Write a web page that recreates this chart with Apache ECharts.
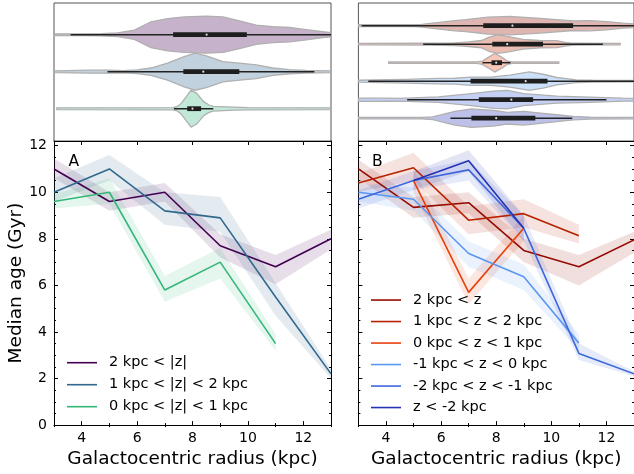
<!DOCTYPE html>
<html><head><meta charset="utf-8">
<script src="https://cdn.jsdelivr.net/npm/echarts@6/dist/echarts.min.js"></script>
<style>html,body{margin:0;padding:0;background:#fff}#c{width:634px;height:474px}</style>
</head><body><div id="c"></div>
<script>
// ---------- Panel A (|z| bins) ----------
const namesA = ['2 kpc < |z|', '1 kpc < |z| < 2 kpc', '0 kpc < |z| < 1 kpc'];
const rA1 = [3, 5, 7, 9, 11, 13];
const ageA1 = [11.0, 9.6, 10.0, 7.7, 6.8, 8.0];
const loA1 = [10.6, 9.2, 9.6, 7.2, 6.05, 7.55];
const hiA1 = [11.45, 10.0, 10.4, 8.2, 7.3, 8.4];
const rA2 = [3, 5, 7, 9, 11, 13];
const ageA2 = [10.0, 11.0, 9.2, 8.9, 5.5, 2.2];
const loA2 = [9.6, 10.5, 8.6, 8.3, 4.7, 2.0];
const hiA2 = [10.6, 11.6, 10.0, 9.8, 6.1, 2.4];
const rA3 = [3, 5, 7, 9, 11];
const ageA3 = [9.6, 10.0, 5.8, 7.0, 3.5];
const loA3 = [9.3, 9.5, 5.3, 6.3, 3.2];
const hiA3 = [9.9, 10.6, 6.4, 7.6, 3.9];

// ---------- Panel B (z bins) ----------
const namesB = ['2 kpc < z', '1 kpc < z < 2 kpc', '0 kpc < z < 1 kpc',
  '-1 kpc < z < 0 kpc', '-2 kpc < z < -1 kpc', 'z < -2 kpc'];
const rB1 = [3, 5, 7, 9, 11, 13];
const ageB1 = [11.0, 9.35, 9.55, 7.5, 6.8, 7.95];
const loB1 = [10.6, 8.9, 9.1, 7.0, 6.0, 7.4];
const hiB1 = [11.4, 9.8, 10.0, 8.0, 7.3, 8.3];
const rB2 = [3, 5, 7, 9, 11];
const ageB2 = [10.4, 11.05, 8.8, 9.08, 8.13];
const loB2 = [10.0, 10.5, 8.2, 8.5, 7.8];
const hiB2 = [10.8, 11.7, 9.4, 9.7, 8.6];
const rB3 = [5, 7, 9];
const ageB3 = [10.5, 5.7, 8.45];
const loB3 = [10.0, 5.2, 7.9];
const hiB3 = [11.0, 6.3, 9.0];
const rB4 = [3, 5, 7, 9, 11];
const ageB4 = [10.0, 9.7, 7.37, 6.37, 3.52];
const loB4 = [9.6, 9.2, 6.8, 5.8, 3.2];
const hiB4 = [10.4, 10.2, 7.9, 6.9, 3.9];
const rB5 = [3, 5, 7, 9, 11, 13];
const ageB5 = [9.7, 10.5, 10.96, 8.45, 3.08, 2.2];
const loB5 = [9.3, 10.1, 10.5, 7.9, 2.8, 2.1];
const hiB5 = [10.1, 10.9, 11.4, 9.0, 3.5, 2.3];
const rB6 = [5, 7, 9];
const ageB6 = [10.5, 11.35, 8.45];
const loB6 = [10.1, 10.9, 7.9];
const hiB6 = [10.9, 11.8, 9.0];

// ---------- Violins (radius distributions), [R, relative density] ----------
const densA1 = [[3,0.05],[4,0.05],[4.7,0.06],[5.3,0.1],[5.9,0.25],[6.5,0.7],[7.1,0.87],[7.7,0.96],[8.5,1.0],[9.1,0.96],[9.7,0.75],[10.3,0.52],[10.9,0.43],[11.5,0.39],[12.1,0.28],[12.7,0.16],[13,0.11]];
const densA2 = [[3,0.05],[4.3,0.08],[5.0,0.08],[5.5,0.06],[6.0,0.1],[6.5,0.2],[7.1,0.46],[7.7,0.82],[8.1,1.0],[8.5,0.86],[9.1,0.55],[9.7,0.46],[10.3,0.37],[10.9,0.2],[11.5,0.11],[12.1,0.07],[13,0.05]];
const densA3 = [[3.1,0.05],[7.3,0.06],[7.45,0.12],[7.6,0.3],[7.75,0.6],[7.95,1.0],[8.15,0.83],[8.4,0.38],[8.6,0.2],[8.75,0.13],[9.5,0.08],[10,0.06],[13,0.05]];
const q1A = [7.3, 7.67, 7.81];
const q3A = [9.96, 9.69, 8.31];
const whLoA = [3.6, 4.93, 7.33];
const whHiA = [13.3, 12.4, 8.75];
const medA = [8.51, 8.39, 8.0];

const densB1 = [[3,0.1],[5.0,0.1],[5.3,0.15],[6.5,0.55],[6.9,0.65],[7.7,0.92],[8.5,1.0],[9.3,0.85],[9.6,0.8],[10.8,0.52],[11.4,0.55],[12.0,0.45],[12.6,0.27],[13,0.2]];
const densB2 = [[3.0,0.08],[5.5,0.1],[6.5,0.15],[7.0,0.25],[7.47,0.4],[7.77,0.8],[8.05,1.0],[8.4,0.85],[8.97,0.53],[9.58,0.4],[10.2,0.38],[10.5,0.2],[10.8,0.1],[12.5,0.08]];
const densB3 = [[4.1,0.08],[7.3,0.08],[7.5,0.18],[7.7,0.55],[7.95,1.0],[8.2,0.6],[8.4,0.18],[8.6,0.08],[10.27,0.08]];
const densB4 = [[3,0.1],[4.7,0.2],[5.9,0.3],[6.5,0.32],[7.1,0.45],[7.8,0.45],[8.5,0.65],[9.2,1.0],[9.7,0.75],[10.2,0.4],[10.9,0.15],[11.5,0.1],[13,0.08]];
const densB5 = [[3,0.18],[4.0,0.17],[4.5,0.15],[5.9,0.3],[7.1,0.65],[7.9,0.93],[8.4,1.0],[9.0,0.65],[10.2,0.38],[11.4,0.28],[12.6,0.16],[13,0.15]];
const densB6 = [[3,0.08],[5.3,0.08],[5.7,0.15],[6.5,0.74],[7.1,1.0],[7.9,0.85],[8.4,0.63],[9.0,0.74],[9.6,0.55],[10.2,0.37],[10.8,0.19],[11.4,0.1],[13,0.08]];
const q1B = [7.53, 7.86, 7.83, 7.07, 7.37, 7.1];
const q3B = [10.79, 9.7, 8.21, 9.86, 9.34, 9.42];
const whLoB = [3.12, 5.35, 7.5, 3.36, 4.77, 6.34];
const whHiB = [13.3, 11.87, 8.52, 13.3, 12.0, 10.76];
const medB = [8.59, 8.4, 8.0, 9.07, 8.55, 8.0];

// ticks
const majorX = [4, 6, 8, 10, 12];
const minorX = [3, 5, 7, 9, 11, 13];
const majorY = [0, 2, 4, 6, 8, 10, 12];
const minorY = [0.5,1,1.5,2.5,3,3.5,4.5,5,5.5,6.5,7,7.5,8.5,9,9.5,10.5,11,11.5];

// ---------- styling ----------
const colA = ['#440154', '#31688e', '#35b779'];
const colB = ['#960b00', '#b82200', '#e8400c', '#5b97f0', '#3e67dc', '#2433b5'];
const FONT = 'DejaVu Sans';

function rgba(hex, a) {
  const n = parseInt(hex.slice(1), 16);
  return 'rgba(' + (n >> 16) + ',' + ((n >> 8) & 255) + ',' + (n & 255) + ',' + a + ')';
}
const pair = (xs, ys) => xs.map((x, i) => [x, ys[i]]);

function bandSeries(xs, lo, hi, color, ai) {
  return {
    type: 'custom', xAxisIndex: ai, yAxisIndex: ai, silent: true, z: 1, clip: true,
    data: [[xs[0], lo[0]]],
    renderItem(params, api) {
      const pts = [];
      for (let i = 0; i < xs.length; i++) pts.push(api.coord([xs[i], hi[i]]));
      for (let i = xs.length - 1; i >= 0; i--) pts.push(api.coord([xs[i], lo[i]]));
      return { type: 'polygon', shape: { points: pts }, style: { fill: rgba(color, 0.13) } };
    }
  };
}
function lineSeries(name, xs, ys, color, ai) {
  return {
    type: 'line', name, xAxisIndex: ai, yAxisIndex: ai, data: pair(xs, ys),
    symbol: 'none', color, lineStyle: { color, width: 1.6 }, z: 3, clip: true
  };
}
function violinSeries(ai, pos, dens, q1, q3, lo, hi, med, color) {
  return {
    type: 'custom', xAxisIndex: ai, yAxisIndex: ai, silent: true, z: 2, clip: true,
    data: [[med, pos]],
    renderItem(params, api) {
      const up = [], dn = [];
      dens.forEach(([r, d]) => {
        up.push(api.coord([r, pos - d * 0.5]));
        dn.push(api.coord([r, pos + d * 0.5]));
      });
      const pts = up.concat(dn.reverse());
      const w0 = api.coord([lo, pos]), w1 = api.coord([hi, pos]);
      const b0 = api.coord([q1, pos]), b1 = api.coord([q3, pos]);
      const m = api.coord([med, pos]);
      return {
        type: 'group', children: [
          { type: 'polygon', shape: { points: pts }, style: { fill: rgba(color, 0.3), stroke: '#b0b0b0', lineWidth: 1.3 } },
          { type: 'line', shape: { x1: w0[0], y1: w0[1], x2: w1[0], y2: w1[1] }, style: { stroke: '#222', lineWidth: 1.5 } },
          { type: 'rect', shape: { x: b0[0], y: b0[1] - 2.4, width: b1[0] - b0[0], height: 4.8 }, style: { fill: '#1e1e1e' } },
          { type: 'circle', shape: { cx: m[0], cy: m[1], r: 1.1 }, style: { fill: '#ddd' } }
        ]
      };
    }
  };
}

const grids = [
  { left: 54, top: 3, width: 277, height: 138, show: true, borderColor: '#555', borderWidth: 1 },
  { left: 54, top: 141, width: 277, height: 287.3 },
  { left: 358.4, top: 3, width: 275.8, height: 138, show: true, borderColor: '#555', borderWidth: 1 },
  { left: 358.4, top: 141, width: 275.8, height: 287.3 }
];

const axLine = { show: true, onZero: false, lineStyle: { color: '#000', width: 1 } };
function xMain(gi, withLabels) {
  return {
    type: 'value', gridIndex: gi, min: 3, max: 13, position: 'bottom',
    axisLine: axLine, splitLine: { show: false },
    axisTick: { show: true, inside: true, length: 4, customValues: majorX, lineStyle: { color: '#000' } },
    axisLabel: { show: withLabels, customValues: majorX, margin: 6, fontSize: 14, color: '#000', fontFamily: FONT },
    name: 'Galactocentric radius (kpc)', nameLocation: 'middle', nameGap: 20,
    nameTextStyle: { fontSize: 18.5, color: '#000', fontFamily: FONT }
  };
}
function xAux(gi, pos, vals, len, line) {
  return {
    type: 'value', gridIndex: gi, min: 3, max: 13, position: pos,
    axisLine: line ? axLine : { show: false }, splitLine: { show: false },
    axisTick: { show: true, inside: true, length: len, customValues: vals, lineStyle: { color: '#000' } },
    axisLabel: { show: false }
  };
}
function yMain(gi, withLabels) {
  const o = {
    type: 'value', gridIndex: gi, min: 0, max: 12.2, position: 'left',
    axisLine: axLine, splitLine: { show: false },
    axisTick: { show: true, inside: true, length: 4, customValues: majorY, lineStyle: { color: '#000' } },
    axisLabel: { show: withLabels, customValues: majorY, margin: 7, fontSize: 14, color: '#000', fontFamily: FONT }
  };
  if (withLabels) {
    o.name = 'Median age (Gyr)'; o.nameLocation = 'middle'; o.nameGap = 27; o.nameRotate = 90;
    o.nameTextStyle = { fontSize: 18.5, color: '#000', fontFamily: FONT };
  }
  return o;
}
function yAux(gi, pos, vals, len, line) {
  return {
    type: 'value', gridIndex: gi, min: 0, max: 12.2, position: pos,
    axisLine: line ? axLine : { show: false }, splitLine: { show: false },
    axisTick: { show: true, inside: true, length: len, customValues: vals, lineStyle: { color: '#000' } },
    axisLabel: { show: false }
  };
}
const hiddenX = gi => ({ type: 'value', gridIndex: gi, min: 3, max: 13, show: false, splitLine: { show: false } });

// axis indices: 0 hidden (grid0), 1 main (grid1), 2..4 aux grid1, 5 hidden grid2, 6 main grid3, 7..9 aux grid3
const xAxes = [
  hiddenX(0), xMain(1, true), xAux(1, 'bottom', minorX, 2, false), xAux(1, 'top', majorX, 4, true), xAux(1, 'top', minorX, 2, false),
  hiddenX(2), xMain(3, true), xAux(3, 'bottom', minorX, 2, false), xAux(3, 'top', majorX, 4, true), xAux(3, 'top', minorX, 2, false)
];
const yAxes = [
  { type: 'value', gridIndex: 0, min: 0.143, max: 3.873, inverse: true, show: false, splitLine: { show: false } },
  yMain(1, true), yAux(1, 'left', minorY, 2, false), yAux(1, 'right', majorY, 4, true), yAux(1, 'right', minorY, 2, false),
  { type: 'value', gridIndex: 2, min: -0.227, max: 7.233, inverse: true, show: false, splitLine: { show: false } },
  yMain(3, false), yAux(3, 'left', minorY, 2, false), yAux(3, 'right', majorY, 4, true), yAux(3, 'right', minorY, 2, false)
];

const series = [];
// violins A (axis 0)
const densA = [densA1, densA2, densA3];
densA.forEach((d, i) => series.push(violinSeries(0, i + 1, d, q1A[i], q3A[i], whLoA[i], whHiA[i], medA[i], colA[i])));
// violins B (axis 5)
const densB = [densB1, densB2, densB3, densB4, densB5, densB6];
densB.forEach((d, i) => series.push(violinSeries(5, i + 1, d, q1B[i], q3B[i], whLoB[i], whHiB[i], medB[i], colB[i])));
// bands + lines A (axis 1)
const rA = [rA1, rA2, rA3], aA = [ageA1, ageA2, ageA3], lA = [loA1, loA2, loA3], hA = [hiA1, hiA2, hiA3];
rA.forEach((r, i) => series.push(bandSeries(r, lA[i], hA[i], colA[i], 1)));
rA.forEach((r, i) => series.push(lineSeries(namesA[i], r, aA[i], colA[i], 1)));
// bands + lines B (axis 6)
const rB = [rB1, rB2, rB3, rB4, rB5, rB6], aB = [ageB1, ageB2, ageB3, ageB4, ageB5, ageB6];
const lB = [loB1, loB2, loB3, loB4, loB5, loB6], hB = [hiB1, hiB2, hiB3, hiB4, hiB5, hiB6];
rB.forEach((r, i) => series.push(bandSeries(r, lB[i], hB[i], colB[i], 6)));
rB.forEach((r, i) => series.push(lineSeries(namesB[i], r, aB[i], colB[i], 6)));

const legendBase = {
  orient: 'vertical', icon: 'rect', itemWidth: 30, itemHeight: 1.6, itemGap: 0, selectedMode: false,
  padding: 0
};
const option = {
  animation: false,
  backgroundColor: '#fff',
  grid: grids,
  xAxis: xAxes,
  yAxis: yAxes,
  title: [
    { text: 'A', left: 68.5, top: 154, padding: 0, textStyle: { fontSize: 15.5, fontWeight: 'normal', color: '#000', fontFamily: FONT } },
    { text: 'B', left: 372, top: 154, padding: 0, textStyle: { fontSize: 15.5, fontWeight: 'normal', color: '#000', fontFamily: FONT } }
  ],
  legend: [
    Object.assign({}, legendBase, { data: namesA, left: 67, top: 351.7,
      textStyle: { fontSize: 14.5, lineHeight: 22, padding: [0, 0, 0, 7], color: '#000', fontFamily: FONT } }),
    Object.assign({}, legendBase, { data: namesB, left: 371, top: 289.3,
      textStyle: { fontSize: 14.5, lineHeight: 21.5, padding: [0, 0, 0, 7], color: '#000', fontFamily: FONT } })
  ],
  series
};
const chart = echarts.init(document.getElementById('c'), null, { renderer: 'canvas' });
chart.setOption(option);
</script>
</body></html>
